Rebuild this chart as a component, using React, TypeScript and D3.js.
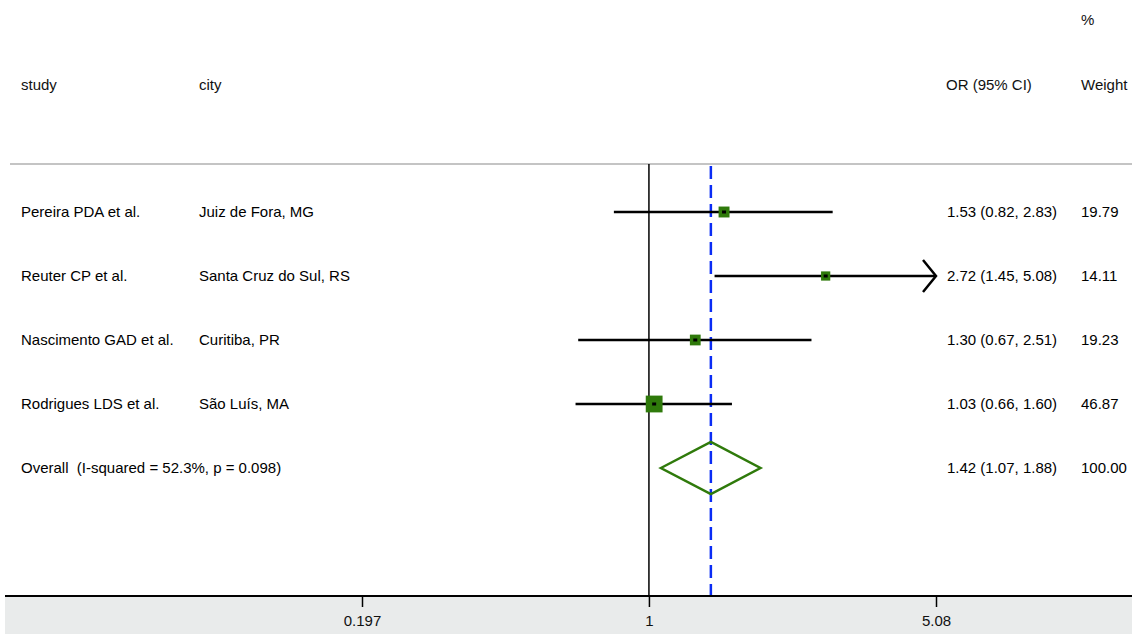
import * as d3 from 'd3';
import React, { useEffect } from 'react';

const studies = ['Pereira PDA et al.', 'Reuter CP et al.', 'Nascimento GAD et al.', 'Rodrigues LDS et al.'];
const cities = ['Juiz de Fora, MG', 'Santa Cruz do Sul, RS', 'Curitiba, PR', 'São Luís, MA'];
const orValues = [1.53, 2.72, 1.3, 1.03];
const ciLow = [0.82, 1.45, 0.67, 0.66];
const ciHigh = [2.83, 5.08, 2.51, 1.6];
const weights = [19.79, 14.11, 19.23, 46.87];

const overallLabel = 'Overall  (I-squared = 52.3%, p = 0.098)';
const overall = { or: 1.42, lo: 1.07, hi: 1.88, weight: 100.0 };

const xTicks = [0.197, 1, 5.08];
const xTickLabels = ['0.197', '1', '5.08'];

export default function App() {
  const ref = React.useRef<HTMLDivElement>(null);

  useEffect(() => {
    if (!ref.current) return;
    ref.current.innerHTML = '';

    const W = 1132;
    const H = 634;
    const font = '"Liberation Sans", Arial, sans-serif';
    const green = '#2f7a0b';

    const x = d3.scaleLog().domain([0.197, 5.08]).range([362, 936]);
    const rowY = d3.scalePoint<number>().domain([0, 1, 2, 3, 4]).range([212, 468]);
    const boxSize = d3.scaleSqrt().domain([0, 46.87]).range([0, 16.8]);

    const axisY = 596;
    const headerY = 164;

    const svg = d3
      .select(ref.current)
      .append('svg')
      .attr('width', W)
      .attr('height', H)
      .style('position', 'absolute')
      .style('left', 0)
      .style('top', 0)
      .style('font-family', font)
      .style('font-size', '15px');

    svg.append('rect').attr('width', W).attr('height', H).attr('fill', '#fff');

    // axis band
    svg.append('rect').attr('x', 5).attr('y', axisY).attr('width', W - 5).attr('height', H - axisY).attr('fill', '#e9ebeb');

    // headers
    const hdr = svg.append('g').attr('fill', '#111');
    hdr.append('text').attr('x', 1081).attr('y', 25).text('%');
    hdr.append('text').attr('x', 21).attr('y', 90).text('study');
    hdr.append('text').attr('x', 199).attr('y', 90).text('city');
    hdr.append('text').attr('x', 946).attr('y', 90).text('OR (95% CI)');
    hdr.append('text').attr('x', 1081).attr('y', 90).text('Weight');

    svg
      .append('line')
      .attr('x1', 10)
      .attr('x2', W)
      .attr('y1', headerY)
      .attr('y2', headerY)
      .attr('stroke', '#c4c4c4')
      .attr('stroke-width', 2);

    // null line at 1
    svg
      .append('line')
      .attr('x1', x(1))
      .attr('x2', x(1))
      .attr('y1', headerY)
      .attr('y2', axisY)
      .attr('stroke', '#000')
      .attr('stroke-width', 1.5);

    // overall dashed line
    svg
      .append('line')
      .attr('x1', x(overall.or))
      .attr('x2', x(overall.or))
      .attr('y1', headerY + 2)
      .attr('y2', axisY)
      .attr('stroke', '#0a2cf5')
      .attr('stroke-width', 2.5)
      .attr('stroke-dasharray', '13,6');

    // study rows
    const maxX = x.range()[1];
    studies.forEach((s, i) => {
      const y = rowY(i) as number;
      const g = svg.append('g');
      g.append('line')
        .attr('x1', x(ciLow[i]))
        .attr('x2', Math.min(x(ciHigh[i]), maxX))
        .attr('y1', y)
        .attr('y2', y)
        .attr('stroke', '#000')
        .attr('stroke-width', 2.5);
      if (ciHigh[i] >= x.domain()[1]) {
        g.append('path')
          .attr('d', `M${maxX - 13},${y - 16}L${maxX},${y}L${maxX - 13},${y + 16}`)
          .attr('fill', 'none')
          .attr('stroke', '#000')
          .attr('stroke-width', 2.5);
      }
      const b = boxSize(weights[i]);
      g.append('rect')
        .attr('x', x(orValues[i]) - b / 2)
        .attr('y', y - b / 2)
        .attr('width', b)
        .attr('height', b)
        .attr('fill', green);
      g.append('rect')
        .attr('x', x(orValues[i]) - 2)
        .attr('y', y - 1.5)
        .attr('width', 4)
        .attr('height', 3)
        .attr('fill', '#000');

      g.append('text').attr('x', 21).attr('y', y + 5).text(s);
      g.append('text').attr('x', 199).attr('y', y + 5).text(cities[i]);
      g.append('text')
        .attr('x', 947)
        .attr('y', y + 5)
        .text(`${orValues[i].toFixed(2)} (${ciLow[i].toFixed(2)}, ${ciHigh[i].toFixed(2)})`);
      g.append('text').attr('x', 1081).attr('y', y + 5).text(weights[i].toFixed(2));
    });

    // overall row
    const oy = rowY(4) as number;
    svg
      .append('path')
      .attr(
        'd',
        `M${x(overall.lo)},${oy}L${x(overall.or)},${oy - 26}L${x(overall.hi)},${oy}L${x(overall.or)},${oy + 26}Z`
      )
      .attr('fill', 'none')
      .attr('stroke', green)
      .attr('stroke-width', 2.5);
    svg.append('text').attr('x', 21).attr('y', oy + 5).attr('xml:space', 'preserve').style('white-space', 'pre').text(overallLabel);
    svg
      .append('text')
      .attr('x', 947)
      .attr('y', oy + 5)
      .text(`${overall.or.toFixed(2)} (${overall.lo.toFixed(2)}, ${overall.hi.toFixed(2)})`);
    svg.append('text').attr('x', 1081).attr('y', oy + 5).text(overall.weight.toFixed(2));

    // x axis
    const axis = svg
      .append('g')
      .attr('transform', `translate(0,${axisY})`)
      .call(
        d3
          .axisBottom(x)
          .tickValues(xTicks)
          .tickFormat((d, i) => xTickLabels[i])
          .tickSize(11)
          .tickPadding(8)
      );
    axis.select('.domain').remove();
    axis.selectAll('.tick line').attr('stroke', '#000').attr('stroke-width', 1.5);
    axis
      .selectAll('.tick text')
      .attr('fill', '#111')
      .style('font-family', '"Liberation Sans Narrow", "Arial Narrow", sans-serif')
      .style('font-size', '15px');
    svg
      .append('line')
      .attr('x1', 5)
      .attr('x2', W)
      .attr('y1', axisY)
      .attr('y2', axisY)
      .attr('stroke', '#000')
      .attr('stroke-width', 2);
  }, []);

  return <div ref={ref}></div>;
}
